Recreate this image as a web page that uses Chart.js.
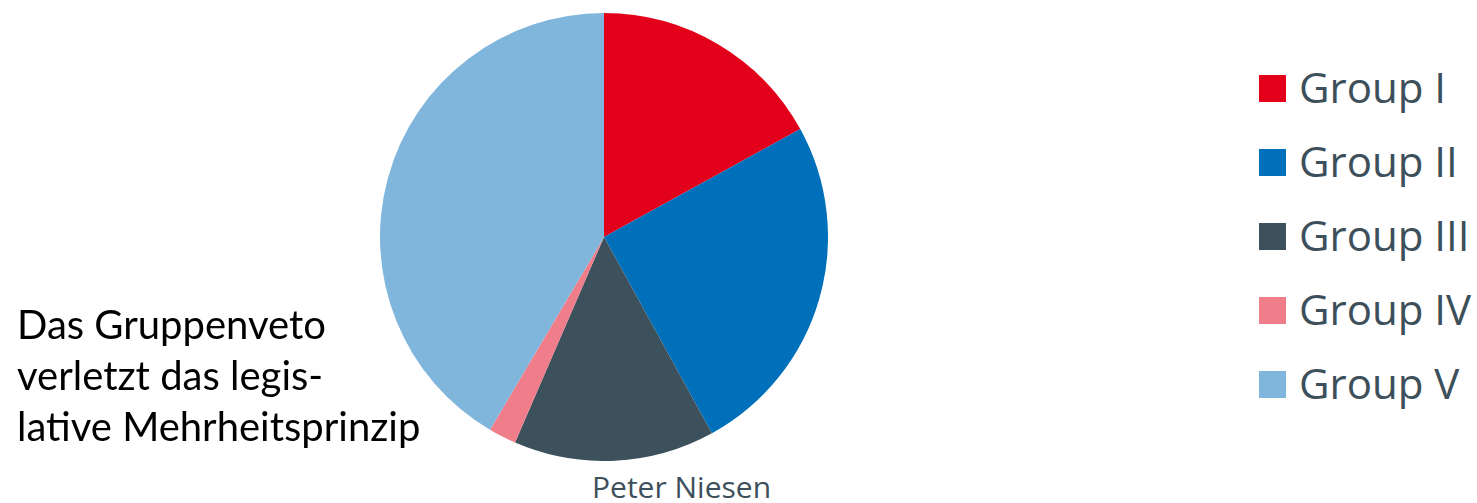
<!DOCTYPE html>
<html>
<head>
<meta charset="utf-8">
<script src="https://cdn.jsdelivr.net/npm/chart.js@4/dist/chart.umd.min.js"></script>
<style>
  html, body { margin: 0; padding: 0; background: #ffffff; }
  body { width: 1477px; height: 503px; position: relative; overflow: hidden; }
  #pie-box { position: absolute; left: 380px; top: 13px; width: 448px; height: 448px; }
  #legend { position: absolute; left: 1259px; top: 66px; margin: 0; padding: 0; list-style: none;
            font-family: "Open Sans", sans-serif; font-size: 42px; color: #3d4f5a; white-space: nowrap; }
  #legend li { height: 74px; display: flex; align-items: flex-start; }
  #legend .box { width: 27px; height: 27px; margin-top: 9px; margin-right: 13px; flex: none; }
  #legend .txt { line-height: 42px; }
  #note { position: absolute; left: 17px; top: 299px; font-family: Lato, sans-serif; font-size: 40px;
          line-height: 51px; color: #000000; white-space: nowrap; }
  #author { position: absolute; left: 592px; top: 466px; font-family: "Open Sans", sans-serif;
            font-size: 30px; line-height: normal; color: #3d4f5a; white-space: nowrap; }
</style>
</head>
<body>
<div id="pie-box"><canvas id="pie-chart"></canvas></div>
<ul id="legend"></ul>
<div id="note">Das Gruppenveto<br>verletzt das legis-<br>lative Mehrheitsprinzip</div>
<div id="author">Peter Niesen</div>
<script>
/* Kuchendiagramm: Anteile der Gruppen */

const groupLabels = ['Group I', 'Group II', 'Group III', 'Group IV', 'Group V'];
const groupShares = [17, 25, 14.5, 2, 41.5];
const groupColors = ['#e2001a', '#0070ba', '#3d515c', '#ef7e8a', '#80b6dc'];

function buildLegend(listId, labels, colors) {
    const list = document.getElementById(listId);
    labels.forEach((label, i) => {
        const li = document.createElement('li');
        const box = document.createElement('span');
        box.className = 'box';
        box.style.background = colors[i];
        const txt = document.createElement('span');
        txt.className = 'txt';
        txt.textContent = label;
        li.appendChild(box);
        li.appendChild(txt);
        list.appendChild(li);
    });
}

const ctx = document.getElementById('pie-chart').getContext('2d');

new Chart(ctx, {
    type: 'pie',
    data: {
        labels: groupLabels,
        datasets: [{
            data: groupShares,
            backgroundColor: groupColors,
            borderWidth: 0
        }]
    },
    options: {
        responsive: true,
        maintainAspectRatio: false,
        animation: false,
        layout: { padding: 0 },
        plugins: {
            legend: { display: false },
            tooltip: { enabled: false }
        }
    }
});

buildLegend('legend', groupLabels, groupColors);
</script>
</body>
</html>
